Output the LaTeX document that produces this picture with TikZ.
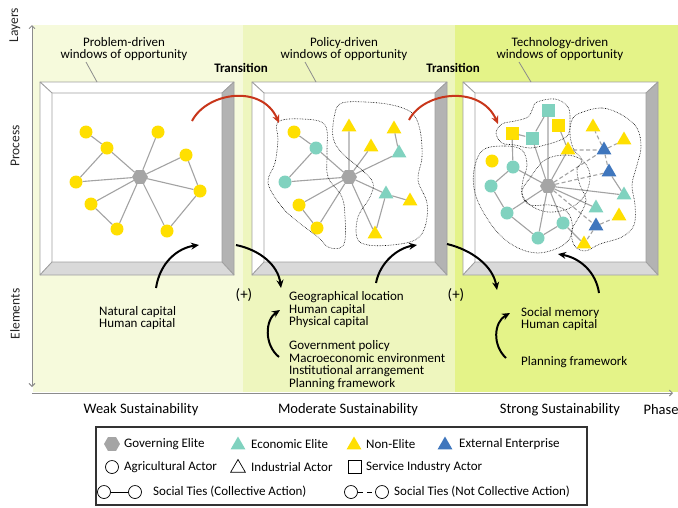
\documentclass[tikz,border=0pt]{standalone}
\usepackage{fontspec}
\setmainfont{Carlito}
\usetikzlibrary{arrows.meta, shapes.geometric}

\definecolor{bandweak}{HTML}{F6FADC}
\definecolor{bandmod}{HTML}{EEF6BE}
\definecolor{bandstrong}{HTML}{E4F388}
\definecolor{nonelite}{HTML}{FFDF00}
\definecolor{ecoelite}{HTML}{80D2BF}
\definecolor{external}{HTML}{3F76BD}
\definecolor{goverelite}{HTML}{A5A5A5}
\definecolor{tiegray}{HTML}{A3A3A3}
\definecolor{framegray}{HTML}{A0A0A0}
\definecolor{axisgray}{HTML}{8C8C8C}
\definecolor{bevelside}{HTML}{B3B3B3}
\definecolor{bevelbase}{HTML}{D9D9D9}
\definecolor{transred}{HTML}{C8361A}

% bevelled window, outer corners (#1,#2) and (#3,#4)
\newcommand{\windowframe}[4]{%
  \fill[white] (#1,#2) rectangle (#3,#4);
  \draw[bevel, fill=white] (#1,#2) -- (#3,#2) -- (#3-12,#2+11) -- (#1+12,#2+11) -- cycle;
  \draw[bevel, fill=white] (#1,#2) -- (#1+12,#2+11) -- (#1+12,#4-13) -- (#1,#4) -- cycle;
  \draw[bevel, fill=bevelside] (#3,#2) -- (#3,#4) -- (#3-12,#4-13) -- (#3-12,#2+11) -- cycle;
  \draw[bevel, fill=bevelbase] (#1,#4) -- (#3,#4) -- (#3-12,#4-13) -- (#1+12,#4-13) -- cycle;
}

\begin{document}
\begin{tikzpicture}[
    x=1pt, y=-1pt,
    >={Stealth[length=8pt, width=7pt]},
    font=\fontsize{13}{12.5}\selectfont,
    bevel/.style={draw=framegray, line width=0.8, line join=round},
    hub/.style={regular polygon, regular polygon sides=6, minimum size=16,
                inner sep=0, fill=goverelite},
    agri/.style={circle, minimum size=13, inner sep=0},
    indus/.style={regular polygon, regular polygon sides=3, minimum size=17,
                  inner sep=0},
    serv/.style={rectangle, minimum size=13, inner sep=0},
    tie/.style={draw=tiegray, line width=1.1},
    loosetie/.style={tie, dash pattern=on 4pt off 2.5pt},
    blob/.style={draw=black, densely dotted, line width=0.6},
    trans/.style={->, draw=transred, line width=2},
    feed/.style={->, line width=2},
    axis/.style={draw=axisgray, line width=0.9,
                 >={Straight Barb[length=3pt, width=6pt]}},
    axislbl/.style={font=\fontsize{13.5}{14}\selectfont, text=black!85},
    phaselbl/.style={font=\fontsize{14.5}{15}\selectfont},
    pluslbl/.style={font=\fontsize{15}{15}\selectfont},
    winlbl/.style={align=center, inner sep=0},
    elemlbl/.style={align=left, anchor=west, inner sep=0},
    keytxt/.style={anchor=west, inner sep=0},
    keyline/.style={draw=black, line width=0.7},
    keybox/.style={draw=black!80, line width=1.2}
  ]
  \useasboundingbox (0,0) rectangle (678,507);

  % phase bands
  \fill[bandweak] (33,25) rectangle (243,392);
  \fill[bandmod] (243,25) rectangle (455,392);
  \fill[bandstrong] (455,25) rectangle (678,392);

  % axes
  \coordinate (ytop) at (32,25);
  \coordinate (ybot) at (32,387);
  \coordinate (xleft) at (32,393);
  \coordinate (xright) at (673,393);
  \draw[axis, <->] (ybot) -- (ytop);
  \draw[axis, ->] (xleft) -- (xright);
  \node[axislbl, rotate=90] (lblLayers) at (15,25) {Layers};
  \node[axislbl, rotate=90] (lblProcess) at (15,146) {Process};
  \node[axislbl, rotate=90] (lblElements) at (15,314) {Elements};
  \node[phaselbl] (lblPhase) at (661,410) {Phase};
  \node[phaselbl] (weak) at (141,410) {Weak Sustainability};
  \node[phaselbl] (moderate) at (348,410) {Moderate Sustainability};
  \node[phaselbl] (strong) at (560,410) {Strong Sustainability};

  % windows of opportunity
  \windowframe{40}{82}{234}{275}
  \windowframe{252}{82}{447}{275}
  \windowframe{463}{82}{658}{275}

  \node[winlbl] (win1) at (124,49) {Problem-driven\\windows of opportunity};
  \node[winlbl] (win2) at (344,49) {Policy-driven\\windows of opportunity};
  \node[winlbl] (win3) at (560,49) {Technology-driven\\windows of opportunity};
  \coordinate (win1a) at (86,62);  \coordinate (win1b) at (97,82);
  \coordinate (win2a) at (305,62); \coordinate (win2b) at (316,82);
  \coordinate (win3a) at (519,62); \coordinate (win3b) at (531,82);
  \draw[draw=axisgray, line width=0.8] (win1a) -- (win1b) (win2a) -- (win2b)
    (win3a) -- (win3b);

  \node[font=\fontsize{13}{13}\selectfont\bfseries] (tr1) at (241,68) {Transition};
  \node[font=\fontsize{13}{13}\selectfont\bfseries] (tr2) at (453,68) {Transition};

  % Panel 1: governing elite and non-elite farmers
  \node[hub] (g1) at (140,177) {};
  \node[agri, fill=nonelite] (n1a) at (86,132) {};
  \node[agri, fill=nonelite] (n1b) at (107,148) {};
  \node[agri, fill=nonelite] (n1c) at (158,132) {};
  \node[agri, fill=nonelite] (n1d) at (186,155) {};
  \node[agri, fill=nonelite] (n1e) at (76,182) {};
  \node[agri, fill=nonelite] (n1f) at (200,191) {};
  \node[agri, fill=nonelite] (n1g) at (91,204) {};
  \node[agri, fill=nonelite] (n1h) at (117,229) {};
  \node[agri, fill=nonelite] (n1i) at (167,231) {};
  \draw[tie] (n1a) -- (n1b) (n1b) -- (g1) (n1b) -- (n1e) (n1e) -- (g1)
    (n1c) -- (g1) (n1d) -- (g1) (n1d) -- (n1f) (n1f) -- (g1)
    (n1g) -- (g1) (n1g) -- (n1h) (n1h) -- (g1) (n1i) -- (g1) (n1i) -- (n1f);

  % Panel 2: agriculture plus industry
  \node[hub] (g2) at (349,177) {};
  \node[agri, fill=nonelite] (n2a) at (294,132) {};
  \node[agri, fill=ecoelite] (n2b) at (316,148) {};
  \node[agri, fill=ecoelite] (n2c) at (285,182) {};
  \node[agri, fill=nonelite] (n2d) at (299,205) {};
  \node[agri, fill=nonelite] (n2e) at (317,228) {};
  \node[indus, fill=nonelite] (n2f) at (349,127) {};
  \node[indus, fill=nonelite] (n2g) at (394,129) {};
  \node[indus, fill=nonelite] (n2h) at (371,147) {};
  \node[indus, fill=ecoelite] (n2i) at (399,153) {};
  \node[indus, fill=ecoelite] (n2j) at (386,194) {};
  \node[indus, fill=nonelite] (n2k) at (410,201) {};
  \node[indus, fill=nonelite] (n2l) at (375,234) {};
  \draw[tie] (n2a) -- (n2b) (n2b) -- (g2) (n2b) -- (n2c) (n2c) -- (g2)
    (n2d) -- (g2) (n2d) -- (n2e) (n2e) -- (g2)
    (n2f) -- (g2) (n2h) -- (g2) (n2i) -- (g2) (n2g) -- (n2i)
    (n2j) -- (g2) (n2j) -- (n2k) (n2j) -- (n2l) (n2l) -- (g2);
  \draw[blob] plot[smooth cycle, tension=0.6] coordinates {
    (278,122) (302,119) (325,125) (327,153) (328,177) (342,197) (345,217)
    (345,240) (340,248) (328,247) (318,237) (298,222) (282,207) (268,183)
    (275,163) (278,140)};
  \draw[blob] plot[smooth cycle, tension=0.6] coordinates {
    (342,103) (365,102) (392,105) (412,113) (420,130) (422,157) (418,180)
    (427,203) (425,227) (415,240) (392,245) (368,245) (357,238) (358,217)
    (370,197) (373,183) (362,170) (342,153) (333,137) (335,113)};

  % Panel 3: services and external enterprises
  \node[hub] (g3) at (548,186) {};
  \node[serv, fill=ecoelite] (n3a) at (548,110) {};
  \node[serv, fill=nonelite] (n3b) at (558,125) {};
  \node[serv, fill=nonelite] (n3c) at (512,133) {};
  \node[serv, fill=ecoelite] (n3d) at (532,138) {};
  \node[agri, fill=nonelite] (n3e) at (492,161) {};
  \node[agri, fill=ecoelite] (n3f) at (513,167) {};
  \node[agri, fill=ecoelite] (n3g) at (491,186) {};
  \node[agri, fill=ecoelite] (n3h) at (507,213) {};
  \node[agri, fill=ecoelite] (n3i) at (538,238) {};
  \node[agri, fill=ecoelite] (n3j) at (563,223) {};
  \node[indus, fill=nonelite] (n3k) at (568,150) {};
  \node[indus, fill=nonelite] (n3l) at (593,127) {};
  \node[indus, fill=nonelite] (n3m) at (624,140) {};
  \node[indus, fill=external] (n3n) at (604,150) {};
  \node[indus, fill=external] (n3o) at (609,172) {};
  \node[indus, fill=ecoelite] (n3p) at (624,195) {};
  \node[indus, fill=ecoelite] (n3q) at (596,208) {};
  \node[indus, fill=external] (n3r) at (596,226) {};
  \node[indus, fill=nonelite] (n3s) at (619,216) {};
  \node[indus, fill=nonelite] (n3t) at (584,244) {};
  \draw[tie] (n3a) -- (n3d) (n3a) -- (g3) (n3c) -- (n3d) (n3c) -- (n3f)
    (n3d) -- (g3) (n3b) -- (n3k) (n3f) -- (g3) (n3f) -- (n3g) (n3g) -- (n3h)
    (n3h) -- (g3) (n3h) -- (n3i) (n3i) -- (g3) (n3i) -- (n3j) (n3j) -- (g3)
    (n3j) -- (n3t) (n3k) -- (g3) (g3) -- (n3p) (n3o) -- (n3p) (g3) -- (n3q);
  \draw[loosetie] (n3k) -- (n3n) (n3n) -- (n3l) (n3n) -- (n3m) (n3n) -- (n3o)
    (g3) -- (n3n) (g3) -- (n3o) (g3) -- (n3r) (n3r) -- (n3s) (n3r) -- (n3t);
  \draw[blob] plot[smooth cycle, tension=0.6] coordinates {
    (537,102) (555,99) (568,107) (570,122) (568,135) (558,141) (545,145)
    (530,148) (515,145) (502,143) (496,133) (502,124) (515,121) (528,117)
    (533,108)};
  \draw[blob] plot[smooth cycle, tension=0.6] coordinates {
    (483,150) (505,146) (522,150) (527,165) (523,180) (522,195) (530,205)
    (550,205) (565,210) (572,222) (570,238) (558,248) (538,253) (518,248)
    (500,235) (485,215) (475,193) (474,170)};
  \draw[blob] plot[smooth cycle, tension=0.6] coordinates {
    (530,178) (545,160) (565,155) (582,160) (590,175) (585,195) (570,208)
    (548,212) (530,205) (522,192)};
  \draw[blob] plot[smooth cycle, tension=0.6] coordinates {
    (580,113) (602,108) (622,115) (637,128) (641,147) (637,165) (632,185)
    (635,205) (634,225) (622,237) (600,244) (585,251) (574,245) (572,230)
    (580,215) (586,200) (580,185) (577,170) (582,160) (574,150) (570,135)
    (572,120)};

  % transitions between windows
  \coordinate (r1s) at (192,121); \coordinate (r1e) at (279,123);
  \coordinate (r2s) at (409,120); \coordinate (r2e) at (498,124);
  \draw[trans] (r1s) .. controls (207,92) and (262,84) .. (r1e);
  \draw[trans] (r2s) .. controls (424,91) and (481,85) .. (r2e);

  % elements
  \node[pluslbl] (plus1) at (244,295) {(+)};
  \node[pluslbl] (plus2) at (456,295) {(+)};
  \node[elemlbl] (weakel) at (99,318) {Natural capital\\Human capital};
  \node[elemlbl] (modcap) at (289,310) {Geographical location\\Human capital\\Physical capital};
  \node[elemlbl] (modinst) at (289,365) {Government policy\\Macroeconomic environment\\Institutional arrangement\\Planning framework};
  \node[elemlbl] (strcap) at (521,319) {Social memory\\Human capital};
  \node[elemlbl] (strinst) at (521,362) {Planning framework};

  % feedback arrows
  \coordinate (a1s) at (156,288); \coordinate (a1e) at (199,245);
  \coordinate (a2s) at (236,245); \coordinate (a2e) at (281,288);
  \coordinate (a3s) at (279,357); \coordinate (a3e) at (280,310);
  \coordinate (a4s) at (376,283); \coordinate (a4e) at (417,245);
  \coordinate (a5s) at (447,244); \coordinate (a5e) at (497,290);
  \coordinate (a6s) at (506,358); \coordinate (a6e) at (510,313);
  \coordinate (a7s) at (599,293); \coordinate (a7e) at (558,254);
  \draw[feed] (a1s) .. controls (160,262) and (178,248) .. (a1e);
  \draw[feed] (a2s) .. controls (260,250) and (278,265) .. (a2e);
  \draw[feed] (a3s) .. controls (264,345) and (265,320) .. (a3e);
  \draw[feed] (a4s) .. controls (380,262) and (398,248) .. (a4e);
  \draw[feed] (a5s) .. controls (472,250) and (493,266) .. (a5e);
  \draw[feed] (a6s) .. controls (492,345) and (494,322) .. (a6e);
  \draw[feed] (a7s) .. controls (596,272) and (580,258) .. (a7e);

  % key
  \draw[keybox] (96,427) rectangle (587,505);
  \node[hub] (keyGov) at (112,444) {};
  \node[keytxt] (keyGovT) at (124,444) {Governing Elite};
  \node[indus, fill=ecoelite] (keyEco) at (238,445) {};
  \node[keytxt] (keyEcoT) at (251,444) {Economic Elite};
  \node[indus, fill=nonelite] (keyNon) at (354,445) {};
  \node[keytxt] (keyNonT) at (366,444) {Non-Elite};
  \node[indus, fill=external] (keyExt) at (445,445) {};
  \node[keytxt] (keyExtT) at (459,444) {External Enterprise};

  \node[agri, keyline, fill=white] (keyAgr) at (112,467) {};
  \node[keytxt] (keyAgrT) at (124,467) {Agricultural Actor};
  \node[indus, keyline, fill=white] (keyInd) at (238,468) {};
  \node[keytxt] (keyIndT) at (251,467) {Industrial Actor};
  \node[serv, keyline, fill=white] (keySer) at (355,467) {};
  \node[keytxt] (keySerT) at (366,467) {Service Industry Actor};

  \node[agri, keyline, fill=white] (keyCa) at (104,492) {};
  \node[agri, keyline, fill=white] (keyCb) at (135,492) {};
  \draw[keyline] (keyCa) -- (keyCb);
  \node[keytxt] (keyCT) at (153,492) {Social Ties (Collective Action)};
  \node[agri, keyline, fill=white] (keyNa) at (351,492) {};
  \node[agri, keyline, fill=white] (keyNb) at (382,492) {};
  \draw[keyline, dash pattern=on 5pt off 4pt] (keyNa) -- (keyNb);
  \node[keytxt] (keyNT) at (394,492) {Social Ties (Not Collective Action)};
\end{tikzpicture}
\end{document}
